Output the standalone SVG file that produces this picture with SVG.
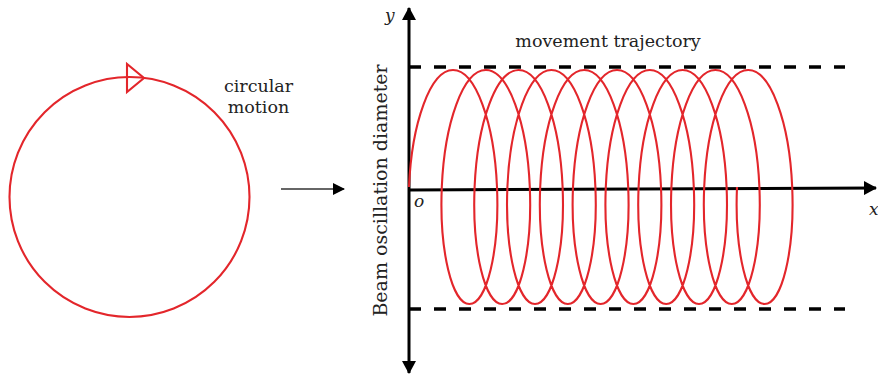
<svg xmlns="http://www.w3.org/2000/svg" width="878" height="375" viewBox="0 0 878 375">
<style>
.red{fill:none;stroke:#e3262b;stroke-width:2.1}
.axis{stroke:#000;stroke-width:3;fill:none}
.dash{stroke:#000;stroke-width:3.5;stroke-dasharray:12 13;fill:none}
.lbl{font-family:"DejaVu Serif","Liberation Serif",serif;font-size:17.5px;fill:#222}
.it{font-family:"DejaVu Serif","Liberation Serif",serif;font-style:italic;font-size:17px;fill:#222}
</style>
<defs>
<marker id="ah" viewBox="0 0 12 12" refX="11" refY="6" markerWidth="12" markerHeight="12" markerUnits="userSpaceOnUse" orient="auto"><path d="M0,0 L12,6 L0,12 Z" fill="#000"/></marker>
<marker id="ahb" viewBox="0 0 13 14" refX="12" refY="7" markerWidth="13" markerHeight="14" markerUnits="userSpaceOnUse" orient="auto"><path d="M0,0 L13,7 L0,14 Z" fill="#000"/></marker>
</defs>
<g id="circle-node">
<circle class="red" cx="129.5" cy="197" r="120"/>
<polygon class="red" points="127,64 127,92 144,78"/>
<text class="lbl" x="258.5" y="92" text-anchor="middle">circular</text>
<text class="lbl" x="258.5" y="113" text-anchor="middle">motion</text>
</g>
<g id="connectors">
<line x1="281" y1="189" x2="344" y2="189" stroke="#333" stroke-width="1.6" marker-end="url(#ah)"/>
</g>
<g id="axes">
<line class="axis" x1="409" y1="190" x2="409" y2="8" marker-end="url(#ahb)"/>
<line class="axis" x1="409" y1="190" x2="409" y2="373" marker-end="url(#ahb)"/>
<line class="axis" x1="409" y1="190" x2="876" y2="188" marker-end="url(#ahb)"/>
<text class="it" x="385" y="21">y</text>
<text class="it" x="414" y="207">o</text>
<text class="it" x="869" y="215">x</text>
</g>
<g id="bounds">
<line class="dash" x1="409" y1="67" x2="845" y2="67"/>
<line class="dash" x1="409" y1="309" x2="845" y2="309"/>
</g>
<g id="trajectory">
<path class="red" d="M409,187
c2.733,-64.62 21.5,-117 44,-117 c22.5,0 41.27,52.38 44,117 c2.733,64.62 -10.56,117 -27.6,117 c-17.04,0 -30.33,-52.38 -27.6,-117
c2.733,-64.62 21.5,-117 44,-117 c22.5,0 41.27,52.38 44,117 c2.733,64.62 -10.56,117 -27.6,117 c-17.04,0 -30.33,-52.38 -27.6,-117
c2.733,-64.62 21.5,-117 44,-117 c22.5,0 41.27,52.38 44,117 c2.733,64.62 -10.56,117 -27.6,117 c-17.04,0 -30.33,-52.38 -27.6,-117
c2.733,-64.62 21.5,-117 44,-117 c22.5,0 41.27,52.38 44,117 c2.733,64.62 -10.56,117 -27.6,117 c-17.04,0 -30.33,-52.38 -27.6,-117
c2.733,-64.62 21.5,-117 44,-117 c22.5,0 41.27,52.38 44,117 c2.733,64.62 -10.56,117 -27.6,117 c-17.04,0 -30.33,-52.38 -27.6,-117
c2.733,-64.62 21.5,-117 44,-117 c22.5,0 41.27,52.38 44,117 c2.733,64.62 -10.56,117 -27.6,117 c-17.04,0 -30.33,-52.38 -27.6,-117
c2.733,-64.62 21.5,-117 44,-117 c22.5,0 41.27,52.38 44,117 c2.733,64.62 -10.56,117 -27.6,117 c-17.04,0 -30.33,-52.38 -27.6,-117
c2.733,-64.62 21.5,-117 44,-117 c22.5,0 41.27,52.38 44,117 c2.733,64.62 -10.56,117 -27.6,117 c-17.04,0 -30.33,-52.38 -27.6,-117
c2.733,-64.62 21.5,-117 44,-117 c22.5,0 41.27,52.38 44,117 c2.733,64.62 -10.56,117 -27.6,117 c-17.04,0 -30.33,-52.38 -27.6,-117
c2.733,-64.62 21.5,-117 44,-117 c22.5,0 41.27,52.38 44,117 c2.733,64.62 -10.56,117 -27.6,117 c-17.04,0 -30.33,-52.38 -27.6,-117"/>
</g>
<g id="labels">
<text class="lbl" x="608" y="47" text-anchor="middle">movement trajectory</text>
<text class="lbl" transform="translate(387,190.5) rotate(-90)" text-anchor="middle" style="font-size:19px">Beam oscillation diameter</text>
</g>
</svg>
